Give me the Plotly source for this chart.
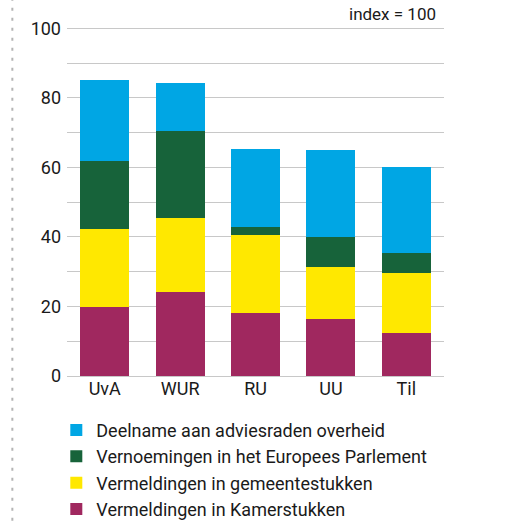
import plotly.graph_objects as go

universities = ["UvA", "WUR", "RU", "UU", "Til"]
kamerstukken = [20.0, 24.3, 18.2, 16.4, 12.3]
gemeentestukken = [22.4, 21.2, 22.4, 15.0, 17.2]
europees_parlement = [19.6, 25.1, 2.3, 8.5, 5.9]
adviesraden = [23.2, 13.8, 22.5, 25.1, 24.7]
grid_vals = [0, 10, 20, 30, 40, 50, 60, 70, 80, 90, 100]
grid_text = ["0", "", "20", "", "40", "", "60", "", "80", "", "100"]

series = [
    ("Vermeldingen in Kamerstukken", kamerstukken, "#A0285F"),
    ("Vermeldingen in gemeentestukken", gemeentestukken, "#FFE800"),
    ("Vernoemingen in het Europees Parlement", europees_parlement, "#17633A"),
    ("Deelname aan adviesraden overheid", adviesraden, "#00A6E4"),
]

FONT = "Roboto"
TXT = "#1a1a1a"

W, H = 508, 521
YMAX = 101
px_per_unit = (376.3 - 28.7) / 100
plot_left, plot_right = 66.7, 444.0
plot_bottom = 376.3
plot_top = plot_bottom - YMAX * px_per_unit

def px2x(px):
    return (px - plot_left) / (plot_right - plot_left)

def py2y(py):
    return (plot_bottom - py) / (plot_bottom - plot_top)

fig = go.Figure()
for name, vals, col in series:
    fig.add_trace(go.Bar(
        x=universities, y=vals, name=name,
        marker=dict(color=col, line=dict(width=0)),
    ))

fig.update_layout(
    barmode="stack",
    bargap=0.35,
    width=W, height=H,
    margin=dict(l=plot_left, r=W - plot_right,
                t=plot_top, b=H - plot_bottom, autoexpand=False),
    paper_bgcolor="white", plot_bgcolor="white",
    font=dict(family=FONT, size=18, color=TXT),
    showlegend=True,
    legend=dict(
        traceorder="reversed",
        x=px2x(56), y=py2y(412),
        xanchor="left", yanchor="top",
        font=dict(family=FONT, size=18, color=TXT),
        bgcolor="rgba(0,0,0,0)",
    ),
    xaxis=dict(
        showgrid=False, showline=False, ticks="",
        tickfont=dict(family=FONT, size=18, color=TXT),
    ),
    yaxis=dict(
        range=[0, YMAX],
        tickmode="array", tickvals=grid_vals, ticktext=grid_text,
        showgrid=True, gridcolor="#c8c8c8", gridwidth=1,
        zeroline=True, zerolinecolor="#c8c8c8", zerolinewidth=1,
        showline=False, ticks="", ticklabelstandoff=5,
        tickfont=dict(family=FONT, size=18, color=TXT),
    ),
    annotations=[dict(
        text="index = 100", xref="paper", yref="paper",
        x=px2x(438), y=py2y(14),
        xanchor="right", yanchor="middle", showarrow=False,
        font=dict(family=FONT, size=17, color=TXT),
    )],
    shapes=[dict(
        type="line", xref="paper", yref="paper",
        x0=px2x(12), x1=px2x(12),
        y0=py2y(521), y1=py2y(0),
        line=dict(color="#b4b4b4", width=2, dash="3px,7px"),
    )],
)

fig.write_html(
    "out.html",
    config={"displayModeBar": False},
    post_script="document.body.style.margin='0';document.body.style.overflow='hidden';",
)
